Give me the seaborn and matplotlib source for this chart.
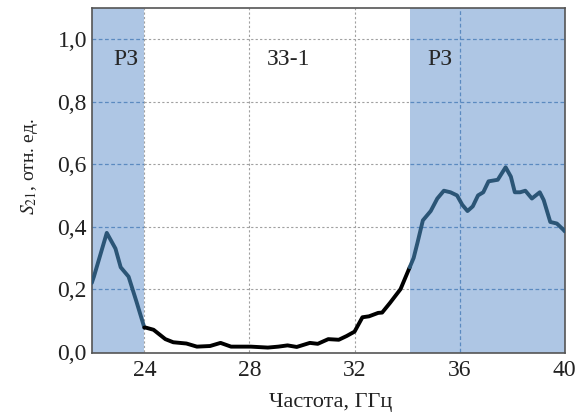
import numpy as np
import pandas as pd
import matplotlib
matplotlib.use("Agg")
import matplotlib.pyplot as plt
import seaborn as sns

# Frequency (GHz) and S21
freq = [22.0, 22.08, 22.57, 22.9, 23.1, 23.4, 23.7, 24.0,
        24.05, 24.35, 24.8, 25.1, 25.6, 26.0, 26.5, 26.9, 27.3, 28.05,
        28.7, 29.1, 29.45, 29.8, 30.3, 30.6, 31.0, 31.4, 31.7, 32.0,
        32.3, 32.55, 32.9, 33.05, 33.35, 33.75, 34.1,
        34.25, 34.4, 34.6, 34.9, 35.15, 35.4, 35.65, 35.9, 36.1, 36.3,
        36.5, 36.7, 36.9, 37.1, 37.45, 37.75, 37.95, 38.1, 38.3, 38.5,
        38.75, 39.05, 39.2, 39.45, 39.7, 39.95, 40.0]
s21 = [0.22, 0.24, 0.38, 0.33, 0.27, 0.24, 0.16, 0.077,
       0.077, 0.07, 0.04, 0.03, 0.026, 0.016, 0.018, 0.028, 0.016, 0.016,
       0.013, 0.016, 0.02, 0.015, 0.028, 0.025, 0.04, 0.038, 0.05, 0.064,
       0.11, 0.113, 0.124, 0.125, 0.156, 0.2, 0.27,
       0.30, 0.35, 0.42, 0.45, 0.49, 0.515, 0.51, 0.50, 0.47, 0.45,
       0.465, 0.50, 0.51, 0.545, 0.55, 0.59, 0.56, 0.51, 0.51, 0.515,
       0.49, 0.51, 0.485, 0.415, 0.41, 0.39, 0.385]

# working zones (shaded) and zone labels
zones = [(22.0, 24.0), (34.1, 40.0)]
zone_labels = ["РЗ", "ЗЗ-1", "РЗ"]
zone_label_x = [23.3, 29.5, 35.25]

xticks = [24, 28, 32, 36, 40]
yticks = [0.0, 0.2, 0.4, 0.6, 0.8, 1.0]
ytick_labels = ["0,0", "0,2", "0,4", "0,6", "0,8", "1,0"]

sns.set_style("white")
plt.rcParams['font.family'] = ['Liberation Serif', 'DejaVu Serif']
plt.rcParams['mathtext.fontset'] = 'stix'

df = pd.DataFrame({'freq': freq, 's21': s21})
zone1 = df[df['freq'] <= 24.0]
middle = df[(df['freq'] >= 24.0) & (df['freq'] <= 34.1)]
zone2 = df[df['freq'] >= 34.1]

fig = plt.figure(figsize=(5.81, 4.17), dpi=100)
ax = fig.add_axes([0.158, 0.153, 0.814, 0.828])

fill_col = '#aec6e4'
line_blue = '#2b5576'
for a, b in zones:
    ax.axvspan(a, b, color=fill_col, zorder=0, lw=0)

# grid: grey dotted in the white area, blue dashed inside zones
for y in yticks[1:]:
    ax.hlines(y, 24.0, 34.1, colors='#a0a0a0', linestyles=(0, (2, 2)), lw=0.8, zorder=1)
    for a, b in zones:
        ax.hlines(y, a, b, colors='#5b8ac0', linestyles=(0, (3, 2)), lw=0.9, zorder=1)
for x in xticks[:-1]:
    if x == 36:
        ax.vlines(x, 0, 1.1, colors='#5b8ac0', linestyles=(0, (3, 2)), lw=0.9, zorder=1)
    else:
        ax.vlines(x, 0, 1.1, colors='#a0a0a0', linestyles=(0, (2, 2)), lw=0.8, zorder=1)

for part, col in [(zone1, line_blue), (middle, 'black'), (zone2, line_blue)]:
    sns.lineplot(data=part, x='freq', y='s21', ax=ax, color=col, lw=2.8,
                 sort=False, estimator=None, zorder=3,
                 solid_joinstyle='round', solid_capstyle='round')

for lbl, x in zip(zone_labels, zone_label_x):
    ax.text(x, 0.935, lbl, ha='center', va='center', fontsize=17)

ax.set_xlim(22, 40)
ax.set_ylim(-0.005, 1.1)
ax.set_xticks(xticks)
ax.set_xticks([26, 30, 34, 38], minor=True)
ax.set_yticks(yticks)
ax.set_yticklabels(ytick_labels)
ax.set_yticks([0.1, 0.3, 0.5, 0.7, 0.9], minor=True)
ax.tick_params(axis='both', which='major', direction='in', length=5, width=1,
               labelsize=17, color='#333333', labelcolor='#222222')
ax.tick_params(axis='x', which='major', pad=5)
ax.tick_params(axis='both', which='minor', direction='in', length=3, width=1,
               color='#333333')
for sp in ax.spines.values():
    sp.set_color('#555555')
    sp.set_linewidth(1.2)

ax.set_xlabel("Частота, ГГц", fontsize=16, color='#222222')
ax.xaxis.set_label_coords(0.505, -0.115)
ax.set_ylabel(r"$S_{21}$, отн. ед.", fontsize=14, color='#222222')
ax.yaxis.set_label_coords(-0.11, 0.54)

fig.savefig('out.png', dpi=100)
